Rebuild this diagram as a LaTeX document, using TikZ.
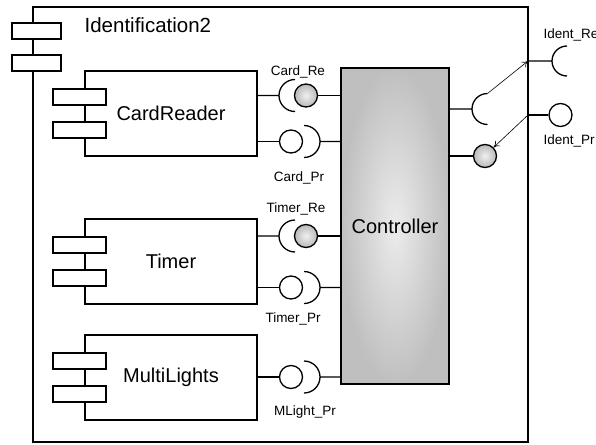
\documentclass[tikz,border=0pt]{standalone}
\usepackage{fontspec}
\setmainfont{Liberation Sans}
\usetikzlibrary{arrows.meta}
\begin{document}
\begin{tikzpicture}
	[x=1pt,y=-1pt,line width=1.3pt,>={To[length=6pt,width=7pt]},
	 comp/.style={draw,rectangle,inner sep=0pt,minimum width=172pt,minimum height=85pt,font=\fontsize{20}{24}\selectfont},
	 icon/.style={draw,rectangle,fill=white,inner sep=0pt,minimum width=53pt,minimum height=16pt},
	 ball/.style={draw,circle,fill=white,inner sep=0pt,minimum size=23pt},
	 gball/.style={ball,inner color=gray!12,outer color=gray!55},
	 tag/.style={inner sep=0pt,font=\fontsize{13.5}{16}\selectfont},
	 link/.style={line width=0.6pt}] % pixel coordinates, y grows downwards
	
	\useasboundingbox (0,0) rectangle (596,444);
	
	% outer component
	\node[draw,rectangle,minimum width=495pt,minimum height=435pt] (frame) at (280.5,224.5) {};
	\node[icon,minimum width=49pt] (fi1) at (36.5,31) {};
	\node[icon,minimum width=49pt] (fi2) at (36.5,63) {};
	\node[anchor=west,inner sep=0pt,font=\fontsize{20.5}{24}\selectfont] (title) at (84,25) {Identification2};
	
	% parts
	\node[comp] (cr) at (171,113.5) {CardReader};
	\node[icon] (cr1) at (79.5,97) {};
	\node[icon] (cr2) at (79.5,130) {};
	\node[comp] (tm) at (171,261.5) {Timer};
	\node[icon] (tm1) at (79.5,245) {};
	\node[icon] (tm2) at (79.5,278) {};
	\node[comp] (ml) at (171,377.5) {MultiLights};
	\node[icon] (ml1) at (79.5,361) {};
	\node[icon] (ml2) at (79.5,394) {};
	\node[draw,rectangle,minimum width=108pt,minimum height=316pt,inner color=gray!15,outer color=gray!50,font=\fontsize{20}{24}\selectfont] (ctrl) at (395,226) {Controller};
	
	% Card_Re
	\coordinate (crs) at (279,95.5);
	\node[gball] (crb) at (306,95.5) {};
	\draw (cr.east |- crs) -- (crs) arc[start angle=180,end angle=90,radius=16pt] (crs) arc[start angle=180,end angle=270,radius=16pt];
	\draw (crb) -- (crb -| ctrl.west);
	\node[tag,anchor=base] (crre) at (298,75.5) {Card\_Re};
	
	% Card_Pr
	\node[ball] (cpb) at (291,141.5) {};
	\coordinate (cps) at (320,141.5);
	\draw (cr.east |- cpb) -- (cpb);
	\draw (ctrl.west |- cps) -- (cps) arc[start angle=0,end angle=90,radius=16pt] (cps) arc[start angle=0,end angle=-90,radius=16pt];
	\node[tag,anchor=base] (crpr) at (299,181) {Card\_Pr};
	
	% Timer_Re
	\coordinate (trs) at (279,236);
	\node[gball] (trb) at (306,236) {};
	\draw (tm.east |- trs) -- (trs) arc[start angle=180,end angle=90,radius=16pt] (trs) arc[start angle=180,end angle=270,radius=16pt];
	\draw (trb) -- (trb -| ctrl.west);
	\node[tag,anchor=base] (tmre) at (296,212) {Timer\_Re};
	
	% Timer_Pr
	\node[ball] (tpb) at (291,287.5) {};
	\coordinate (tps) at (320,287.5);
	\draw (tm.east |- tpb) -- (tpb);
	\draw (ctrl.west |- tps) -- (tps) arc[start angle=0,end angle=90,radius=16pt] (tps) arc[start angle=0,end angle=-90,radius=16pt];
	\node[tag,anchor=base] (tmpr) at (293,322) {Timer\_Pr};
	
	% MLight_Pr
	\node[ball] (mpb) at (291,377) {};
	\coordinate (mps) at (320,377);
	\draw (ml.east |- mpb) -- (mpb);
	\draw (ctrl.west |- mps) -- (mps) arc[start angle=0,end angle=90,radius=16pt] (mps) arc[start angle=0,end angle=-90,radius=16pt];
	\node[tag,anchor=base] (mlpr) at (305,415) {MLight\_Pr};
	
	% controller ports
	\coordinate (irs) at (472,109);
	\coordinate (irt) at (487.5,93.5);
	\node[gball] (ipb) at (485,156) {};
	\draw (ctrl.east |- irs) -- (irs) arc[start angle=180,end angle=90,radius=15.5pt] (irs) arc[start angle=180,end angle=270,radius=15.5pt];
	\draw (ctrl.east |- ipb) -- (ipb);
	
	% ports on the border
	\coordinate (fre) at (528,61);
	\coordinate (fres) at (552,61);
	\coordinate (fpr) at (528,115);
	\node[ball] (fprb) at (560.5,115) {};
	\draw (fre) -- (fres) arc[start angle=180,end angle=90,radius=15pt] (fres) arc[start angle=180,end angle=270,radius=15pt];
	\draw (fpr) -- (fprb);
	\node[tag,anchor=base west] (idre) at (543,38) {Ident\_Re};
	\node[tag,anchor=base west] (idpr) at (543,144) {Ident\_Pr};
	
	% delegation
	\draw [->,link] (irt) -- (fre);
	\draw [->,link] (fpr) -- (ipb.north east);
	
\end{tikzpicture}
\end{document}
